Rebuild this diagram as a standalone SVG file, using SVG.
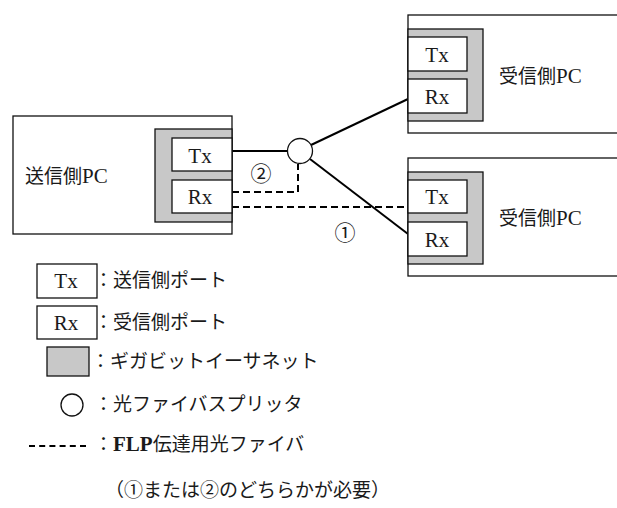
<svg xmlns="http://www.w3.org/2000/svg" width="617" height="508" viewBox="0 0 617 508">
<style>
text{font-family:'Liberation Serif','Noto Sans CJK JP',serif;font-size:19px;fill:#1a1a1a}
.lat{font-family:'Liberation Serif',serif;font-size:21px}
.num{font-size:21px}
.pc{fill:#fff;stroke:#111;stroke-width:1.3}
.gig{fill:#c8c8c8;stroke:#111;stroke-width:1.3}
.port{fill:#fff;stroke:#111;stroke-width:1.3}
.solid{fill:none;stroke:#000;stroke-width:2}
.dash{fill:none;stroke:#000;stroke-width:2;stroke-dasharray:7 4}
.spl{fill:#fff;stroke:#111;stroke-width:1.3}
.c{text-anchor:middle}
</style>
<rect width="617" height="508" fill="#fff"/>
<g id="connectors">
<line class="solid" x1="232" y1="151" x2="287.5" y2="151"/>
<line class="solid" x1="311" y1="145" x2="408" y2="99"/>
<line class="solid" x1="310" y1="159" x2="408" y2="234"/>
<path class="dash" d="M232,192 H298 V164"/>
<path class="dash" d="M232,207 H408"/>
<text class="c num" x="261" y="181">②</text>
<text class="c num" x="345" y="240">①</text>
</g>
<g id="sender">
<rect class="pc" x="13" y="116" width="219" height="118"/>
<rect class="gig" x="155" y="129" width="77" height="93"/>
<rect class="port" x="172" y="138" width="60" height="33"/>
<rect class="port" x="172" y="180" width="60" height="33"/>
<text class="c lat" x="200" y="163">Tx</text>
<text class="c lat" x="200" y="204">Rx</text>
<text x="25" y="183">送信側<tspan class="lat">PC</tspan></text>
</g>
<g id="splitter">
<circle class="spl" cx="300" cy="151" r="12.5"/>
</g>
<g id="receiver1">
<rect class="pc" x="408" y="15" width="215" height="118"/>
<rect class="gig" x="408" y="29" width="75" height="92"/>
<rect class="port" x="408" y="37" width="59" height="34"/>
<rect class="port" x="408" y="79" width="59" height="34"/>
<text class="c lat" x="437" y="62">Tx</text>
<text class="c lat" x="437" y="104">Rx</text>
<text x="499" y="83">受信側<tspan class="lat">PC</tspan></text>
</g>
<g id="receiver2">
<rect class="pc" x="408" y="158" width="215" height="118"/>
<rect class="gig" x="408" y="172" width="75" height="92"/>
<rect class="port" x="408" y="180" width="59" height="33"/>
<rect class="port" x="408" y="222" width="59" height="34"/>
<text class="c lat" x="437" y="204">Tx</text>
<text class="c lat" x="437" y="247">Rx</text>
<text x="499" y="225">受信側<tspan class="lat">PC</tspan></text>
</g>
<g id="legend">
<rect class="port" x="37" y="264" width="60" height="34"/>
<text class="c lat" x="66" y="288">Tx</text>
<text x="94" y="287">：送信側ポート</text>
<rect class="port" x="37" y="306" width="60" height="33"/>
<text class="c lat" x="66" y="330">Rx</text>
<text x="94" y="329">：受信側ポート</text>
<rect class="gig" x="47" y="347" width="42" height="29"/>
<text x="91" y="368">：ギガビットイーサネット</text>
<circle class="spl" cx="72" cy="405" r="11"/>
<text x="94" y="411">：光ファイバスプリッタ</text>
<line x1="29" y1="446" x2="86" y2="446" stroke="#000" stroke-width="2" stroke-dasharray="6 4.2"/>
<text x="94" y="451">：<tspan class="lat" font-size="19" font-weight="bold">FLP</tspan>伝達用光ファイバ</text>
<text x="105" y="497">（①または②のどちらかが必要）</text>
</g>
</svg>
